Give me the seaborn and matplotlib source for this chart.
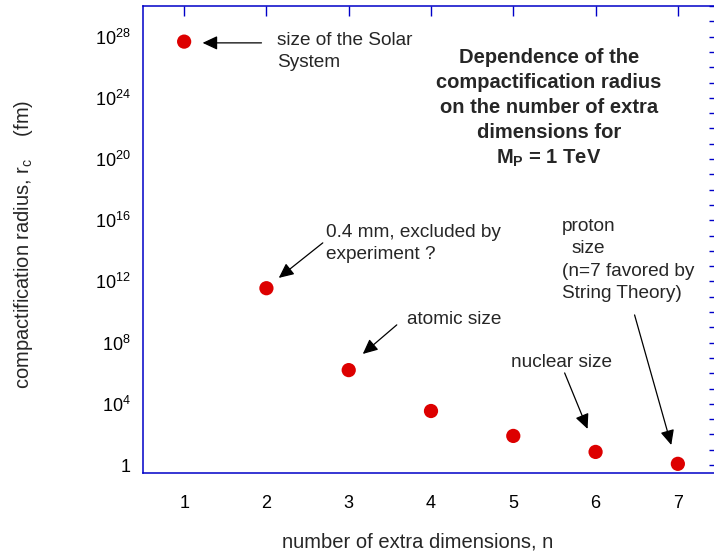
import numpy as np
import pandas as pd
import matplotlib
matplotlib.use("Agg")
import matplotlib.pyplot as plt
import matplotlib.ticker as ticker
import seaborn as sns

# 数据: 额外维数 n 与紧致化半径 r_c (fm)
n_dims = [1, 2, 3, 4, 5, 6, 7]
r_c_fm = [4.7e27, 3.6e11, 1.6e6, 3.4e3, 80, 7.2, 1.2]

major_ticks = [1e0, 1e4, 1e8, 1e12, 1e16, 1e20, 1e24, 1e28]
major_labels = ["1", "$10^{4}$", "$10^{8}$", "$10^{12}$", "$10^{16}$",
                "$10^{20}$", "$10^{24}$", "$10^{28}$"]

AXIS_BLUE = "#0000c8"
DOT_RED = "#dd0000"

sns.set_style("white")
plt.rcParams.update({
    "font.family": ["Liberation Sans", "DejaVu Sans"],
    "mathtext.fontset": "custom",
    "mathtext.rm": "Liberation Sans",
    "mathtext.it": "Liberation Sans",
    "mathtext.bf": "Liberation Sans:bold",
    "font.size": 13,
})

df = pd.DataFrame({"n": n_dims, "r_c": r_c_fm})

fig = plt.figure(figsize=(7.14, 5.52), dpi=100)
ax = fig.add_axes([143 / 714, 1 - 473 / 552, 576 / 714, 467 / 552])

sns.scatterplot(data=df, x="n", y="r_c", ax=ax, s=105, color=DOT_RED,
                edgecolor="none", zorder=3, legend=False)

ax.set_yscale("log")
ax.set_xlim(0.5, 7.5)
ax.set_ylim(10 ** -0.52, 1e30)

ax.set_xticks(n_dims)
ax.set_xticklabels([str(v) for v in n_dims])
ax.set_yticks(major_ticks)
ax.set_yticklabels(major_labels)
ax.yaxis.set_minor_locator(ticker.FixedLocator([10.0 ** k for k in range(0, 31)]))
ax.yaxis.set_minor_formatter(ticker.NullFormatter())

for side in ["left", "right", "top", "bottom"]:
    ax.spines[side].set_color(AXIS_BLUE)
    ax.spines[side].set_linewidth(1.1)

ax.tick_params(axis="both", which="both", direction="in", length=7,
               width=1.0, color=AXIS_BLUE, top=True, right=True,
               labelsize=13, labelcolor="black")
ax.tick_params(axis="x", pad=16)
ax.tick_params(axis="y", pad=9)

ax.set_xlabel("number of extra dimensions, n", fontsize=14.5)
ax.xaxis.set_label_coords(0.477, -0.127)
ax.set_ylabel("compactification radius, r$_{\\mathrm{c}}$    (fm)", fontsize=14.5)
ax.yaxis.set_label_coords(-0.188, 0.49)

# 标题文字 (图内)
ax.text(5.435, 10 ** 23.3,
        "Dependence of the\ncompactification radius\non the number of extra\n"
        "dimensions for\n$\\mathbf{M_P}$ = 1 TeV",
        ha="center", va="center", fontsize=14.5, fontweight="bold",
        linespacing=1.4)

# 注释文字
ax.text(2.127, 10 ** 27.03, "size of the Solar\nSystem",
        ha="left", va="center", fontsize=13.7, linespacing=1.38)
ax.text(2.719, 10 ** 14.5, "0.4 mm, excluded by\nexperiment ?",
        ha="left", va="center", fontsize=13.7, linespacing=1.38)
ax.text(3.703, 10 ** 9.48, "atomic size", ha="left", va="center", fontsize=13.7)
ax.text(4.968, 10 ** 6.67, "nuclear size", ha="left", va="center", fontsize=13.7)
ax.text(5.916, 10 ** 14.9, "proton\nsize", ha="center", va="center",
        fontsize=13.7, linespacing=1.38, multialignment="center")
ax.text(5.588, 10 ** 11.95, "(n=7 favored by\nString Theory)",
        ha="left", va="center", fontsize=13.7, linespacing=1.38)

# 箭头: (尾, 头)
arrows = [
    ((1.94, 10 ** 27.59), (1.224, 10 ** 27.59)),
    ((2.685, 10 ** 14.52), (2.150, 10 ** 12.23)),
    ((3.584, 10 ** 9.16), (3.171, 10 ** 7.26)),
    ((5.624, 10 ** 6.02), (5.903, 10 ** 2.36)),
    ((6.474, 10 ** 9.81), (6.92, 10 ** 1.31)),
]
for tail, tip in arrows:
    ax.annotate("", xy=tip, xytext=tail,
                arrowprops=dict(arrowstyle="-|>,head_length=0.6,head_width=0.28",
                                mutation_scale=15, color="black", lw=0.9,
                                shrinkA=0, shrinkB=0))

fig.savefig("out.png", dpi=100)
plt.close(fig)
